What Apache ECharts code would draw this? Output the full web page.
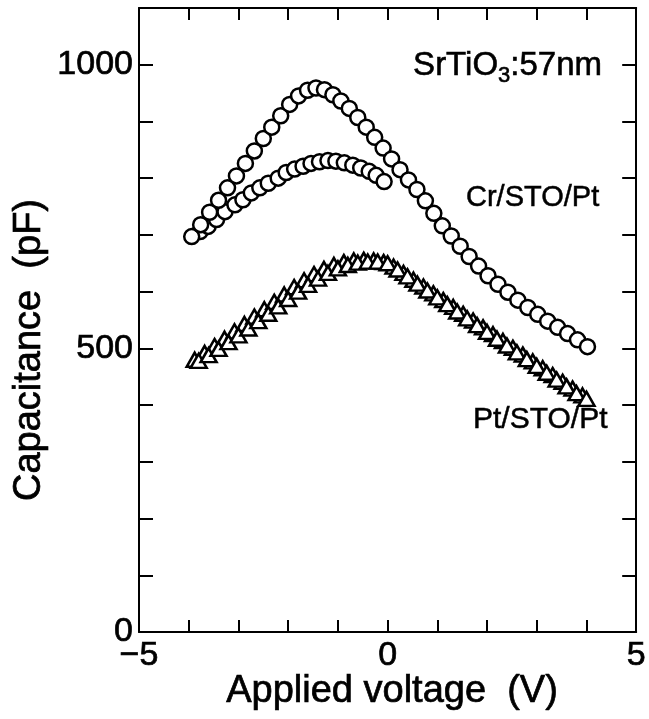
<!DOCTYPE html>
<html><head><meta charset="utf-8">
<script src="https://cdn.jsdelivr.net/npm/echarts@6/dist/echarts.min.js"></script>
<style>html,body{margin:0;padding:0;background:#fff}#c{width:649px;height:719px}</style>
</head><body><div id="c"></div>
<script>
// Cr/STO/Pt (circles), sweep branch with higher peak: -4 V -> +4 V
const crUpperV = [-3.94,-3.76,-3.58,-3.40,-3.22,-3.04,-2.86,-2.68,-2.50,-2.33,-2.15,-1.97,-1.79,-1.61,-1.44,-1.27,-1.10,-0.94,-0.77,-0.60,-0.43,-0.26,-0.09,0.08,0.25,0.42,0.59,0.76,0.93,1.10,1.28,1.46,1.64,1.83,2.02,2.22,2.42,2.62,2.82,3.02,3.22,3.42,3.62,3.82,4.02];
const crUpperC = [697,718,740,761,783,804,826,848,870,890,910,930,945,955,959,956,947,936,923,907,890,872,853,834,815,797,780,760,738,716,698,680,662,645,628,613,599,585,572,560,548,537,526,515,503];
// Cr/STO/Pt (circles), lower branch: 0 V -> -4 V
const crLowerV = [-3.77,-3.61,-3.44,-3.27,-3.07,-2.91,-2.74,-2.57,-2.40,-2.20,-2.04,-1.87,-1.70,-1.54,-1.37,-1.20,-1.04,-0.87,-0.70,-0.54,-0.37,-0.23,-0.07];
const crLowerC = [706,715,727,741,753,762,774,783,791,800,810,816,821,826,829,831,830,827,823,818,812,805,794];
// Pt/STO/Pt (triangles), first sweep
const ptAV = [-3.88,-3.68,-3.48,-3.28,-3.08,-2.88,-2.68,-2.48,-2.28,-2.08,-1.88,-1.68,-1.48,-1.28,-1.08,-0.88,-0.68,-0.48,-0.28,-0.08,0.12,0.32,0.52,0.72,0.92,1.12,1.32,1.52,1.72,1.92,2.12,2.32,2.52,2.72,2.92,3.12,3.32,3.52,3.72,3.92];
const ptAC = [480,492,504,517,530,543,556,569,582,595,608,620,631,640,647,652,655,656,655,652,644,633,621,609,597,585,573,561,549,537,525,513,501,489,477,465,453,441,429,417];
// Pt/STO/Pt (triangles), return sweep
const ptBV = [-3.80,-3.60,-3.40,-3.20,-3.00,-2.80,-2.60,-2.40,-2.20,-2.00,-1.80,-1.60,-1.40,-1.20,-1.00,-0.80,-0.60,-0.40,-0.20,0.00,0.20,0.40,0.60,0.80,1.00,1.20,1.40,1.60,1.80,2.00,2.20,2.40,2.60,2.80,3.00,3.20,3.40,3.60,3.80,4.00];
const ptBC = [478,488,499,511,523,535,548,561,574,587,600,612,623,633,641,647,651,653,653,650,639,627,614,602,590,578,565,553,541,529,517,505,493,481,469,457,445,433,421,411];

const FONT = '"Liberation Sans", Arial, Helvetica, sans-serif';
const zip = (a, b) => a.map((v, i) => [v, b[i]]);
const chart = echarts.init(document.getElementById('c'), null, {renderer: 'canvas'});
const axLine = {onZero: false, lineStyle: {color: '#000', width: 2}};
const tickX = {inside: true, length: 12, lineStyle: {color: '#000', width: 2}};
const tickY = {inside: true, length: 14, lineStyle: {color: '#000', width: 2}};
const circ = {symbol: 'circle', symbolSize: 15, itemStyle: {color: '#fff', borderColor: '#000', borderWidth: 2.5, opacity: 1}};
const tri = {symbol: 'triangle', symbolSize: [16, 14], itemStyle: {color: '#fff', borderColor: '#000', borderWidth: 2.5, opacity: 1}};
const thick = {textBorderColor: '#000', textBorderWidth: 0.7};

chart.setOption({
  animation: false,
  backgroundColor: '#fff',
  grid: {left: 139, right: 12, top: 8, bottom: 87},
  xAxis: [
    {type: 'value', min: -5, max: 5, interval: 1, position: 'bottom',
     axisLine: axLine, axisTick: tickX, splitLine: {show: false},
     axisLabel: Object.assign({formatter: v => v === -5 ? '\u22125' : (v === 0 || v === 5 ? String(v) : ''),
                 fontSize: 34, color: '#000', fontFamily: FONT, margin: 7}, thick)},
    {type: 'value', min: -5, max: 5, interval: 1, position: 'top',
     axisLine: axLine, axisTick: tickX, splitLine: {show: false}, axisLabel: {show: false}}
  ],
  yAxis: [
    {type: 'value', min: 0, max: 1100, interval: 100, position: 'left',
     axisLine: axLine, axisTick: tickY, splitLine: {show: false},
     axisLabel: Object.assign({formatter: v => (v % 500 === 0 ? String(v) : ''),
                 fontSize: 34, color: '#000', fontFamily: FONT, margin: 6}, thick)},
    {type: 'value', min: 0, max: 1100, interval: 100, position: 'right',
     axisLine: axLine, axisTick: tickY, splitLine: {show: false}, axisLabel: {show: false}}
  ],
  series: [
    Object.assign({type: 'scatter', name: 'Pt/STO/Pt A', data: zip(ptAV, ptAC)}, tri),
    Object.assign({type: 'scatter', name: 'Pt/STO/Pt B', data: zip(ptBV, ptBC)}, tri),
    Object.assign({type: 'scatter', name: 'Cr/STO/Pt lower', data: zip(crLowerV, crLowerC)}, circ),
    Object.assign({type: 'scatter', name: 'Cr/STO/Pt upper', data: zip(crUpperV, crUpperC)}, circ)
  ],
  graphic: [
    {type: 'text', x: 602, y: 66, style: {text: '{a|SrTiO}{s|3}{a|:57nm}', align: 'right', verticalAlign: 'middle',
      rich: {a: Object.assign({fontSize: 33, lineHeight: 42, fontFamily: FONT, fill: '#000'}, {stroke: '#000', lineWidth: 0.6}),
             s: Object.assign({fontSize: 22, lineHeight: 22, verticalAlign: 'bottom', fontFamily: FONT, fill: '#000'}, {stroke: '#000', lineWidth: 0.6})}}},
    {type: 'text', x: 466, y: 198, style: {text: 'Cr/STO/Pt', align: 'left', verticalAlign: 'middle', fontSize: 29, fontFamily: FONT, fill: '#000', stroke: '#000', lineWidth: 0.5}},
    {type: 'text', x: 473, y: 420, style: {text: 'Pt/STO/Pt', align: 'left', verticalAlign: 'middle', fontSize: 30, fontFamily: FONT, fill: '#000', stroke: '#000', lineWidth: 0.5}},
    {type: 'text', x: 392, y: 692, style: {text: 'Applied voltage  (V)', align: 'center', verticalAlign: 'middle', fontSize: 38, fontFamily: FONT, fill: '#000', stroke: '#000', lineWidth: 0.7}},
    {type: 'text', x: 30, y: 350, rotation: Math.PI / 2, style: {text: 'Capacitance  (pF)', align: 'center', verticalAlign: 'middle', fontSize: 38, fontFamily: FONT, fill: '#000', stroke: '#000', lineWidth: 0.7}}
  ]
});
</script></body></html>
